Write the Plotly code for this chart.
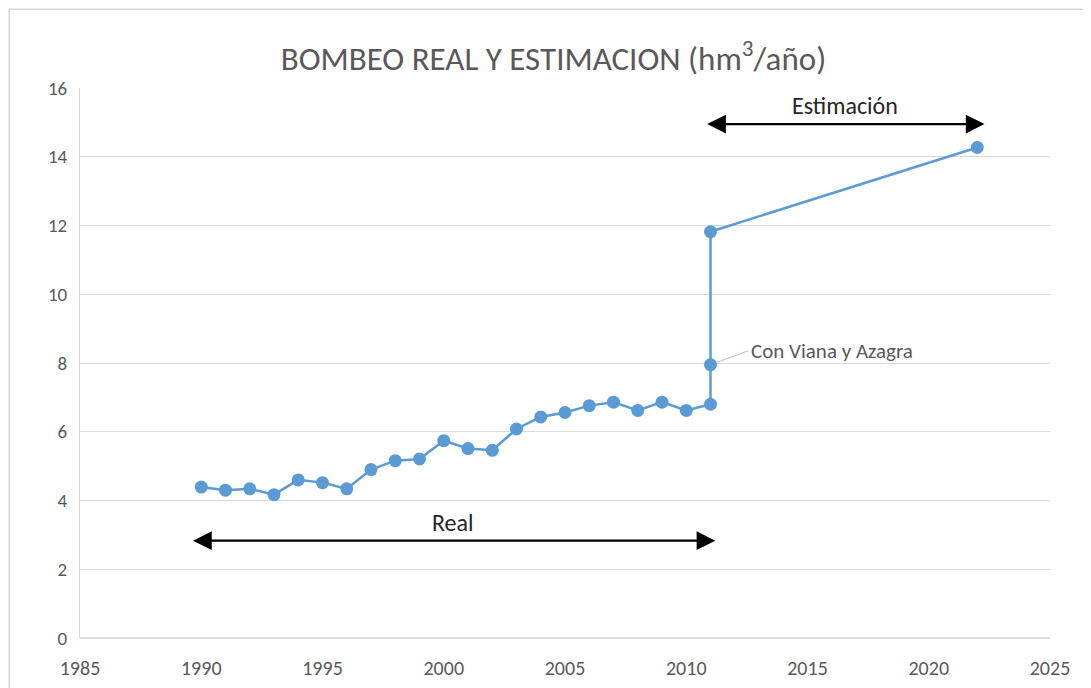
import plotly.graph_objects as go

# Data
years = [1990, 1991, 1992, 1993, 1994, 1995, 1996, 1997, 1998, 1999, 2000,
         2001, 2002, 2003, 2004, 2005, 2006, 2007, 2008, 2009, 2010, 2011,
         2011, 2011, 2022]
bombeo = [4.39, 4.30, 4.34, 4.17, 4.60, 4.52, 4.34, 4.90, 5.16, 5.21, 5.74,
          5.51, 5.46, 6.08, 6.43, 6.56, 6.76, 6.86, 6.62, 6.86, 6.62, 6.80,
          7.95, 11.82, 14.27]

title_text = "BOMBEO REAL Y ESTIMACION (hm<sup>3</sup>/año)"
note_text = "Con Viana y Azagra"
note_year, note_value = 2011, 7.95

real_label = "Real"
real_span = [1989.6, 2011.2]
real_level = 2.83
est_label = "Estimación"
est_span = [2010.8, 2022.3]
est_level = 14.95

x_ticks = [1985, 1990, 1995, 2000, 2005, 2010, 2015, 2020, 2025]
y_ticks = [0, 2, 4, 6, 8, 10, 12, 14, 16]

FONT = "Carlito, 'Liberation Sans Narrow', 'Open Sans', sans-serif"
GRAY = "#595959"
BLUE = "#5b9bd5"

fig = go.Figure()
fig.add_trace(go.Scatter(
    x=years, y=bombeo, mode="lines+markers",
    line=dict(color=BLUE, width=2.5),
    marker=dict(color=BLUE, size=13),
    showlegend=False, hoverinfo="x+y"))

annotations = [
    # double-headed arrows
    dict(x=real_span[1], y=real_level, ax=real_span[0], ay=real_level,
         xref="x", yref="y", axref="x", ayref="y", text="", showarrow=True,
         arrowhead=2, arrowside="end+start", arrowsize=1.7, arrowwidth=2.2,
         arrowcolor="#000000"),
    dict(x=est_span[1], y=est_level, ax=est_span[0], ay=est_level,
         xref="x", yref="y", axref="x", ayref="y", text="", showarrow=True,
         arrowhead=2, arrowside="end+start", arrowsize=1.7, arrowwidth=2.2,
         arrowcolor="#000000"),
    dict(x=sum(real_span) / 2, y=real_level, yshift=18, text=real_label,
         showarrow=False, xref="x", yref="y",
         font=dict(family=FONT, size=24, color="#262626")),
    dict(x=sum(est_span) / 2, y=est_level, yshift=19, text=est_label,
         showarrow=False, xref="x", yref="y",
         font=dict(family=FONT, size=24, color="#262626")),
    # leader label
    dict(x=note_year, y=note_value, xref="x", yref="y", text=note_text,
         showarrow=True, arrowhead=0, arrowwidth=1, arrowcolor="#bfbfbf",
         ax=38, ay=-14, xanchor="left", standoff=7,
         font=dict(family=FONT, size=21, color=GRAY)),
]

fig.update_layout(
    width=1091, height=688,
    margin=dict(l=72, r=49, t=80, b=58),
    paper_bgcolor="white", plot_bgcolor="white",
    title=dict(text=title_text, x=0.5, xanchor="center", y=1 - 50 / 688,
               yanchor="middle",
               font=dict(family=FONT, size=33, color=GRAY)),
    annotations=annotations,
    shapes=[dict(type="rect", xref="paper", yref="paper",
                 x0=-0.073, x1=1.039, y0=-0.2, y1=1.143,
                 line=dict(color="#d9d9d9", width=1.5))],
)
fig.update_xaxes(range=[1985, 2025], tickvals=x_ticks, showgrid=False,
                 zeroline=False, showline=False, ticks="",
                 ticklabelstandoff=16,
                 tickfont=dict(family=FONT, size=20, color=GRAY))
fig.update_yaxes(range=[0, 16], tickvals=y_ticks, showgrid=True,
                 gridcolor="#d9d9d9", gridwidth=1, zeroline=True,
                 zerolinecolor="#d9d9d9", zerolinewidth=1.5,
                 showline=True, linecolor="#d9d9d9", linewidth=1,
                 ticks="", ticklabelstandoff=8,
                 tickfont=dict(family=FONT, size=19, color=GRAY))

fig.write_html("out.html")
